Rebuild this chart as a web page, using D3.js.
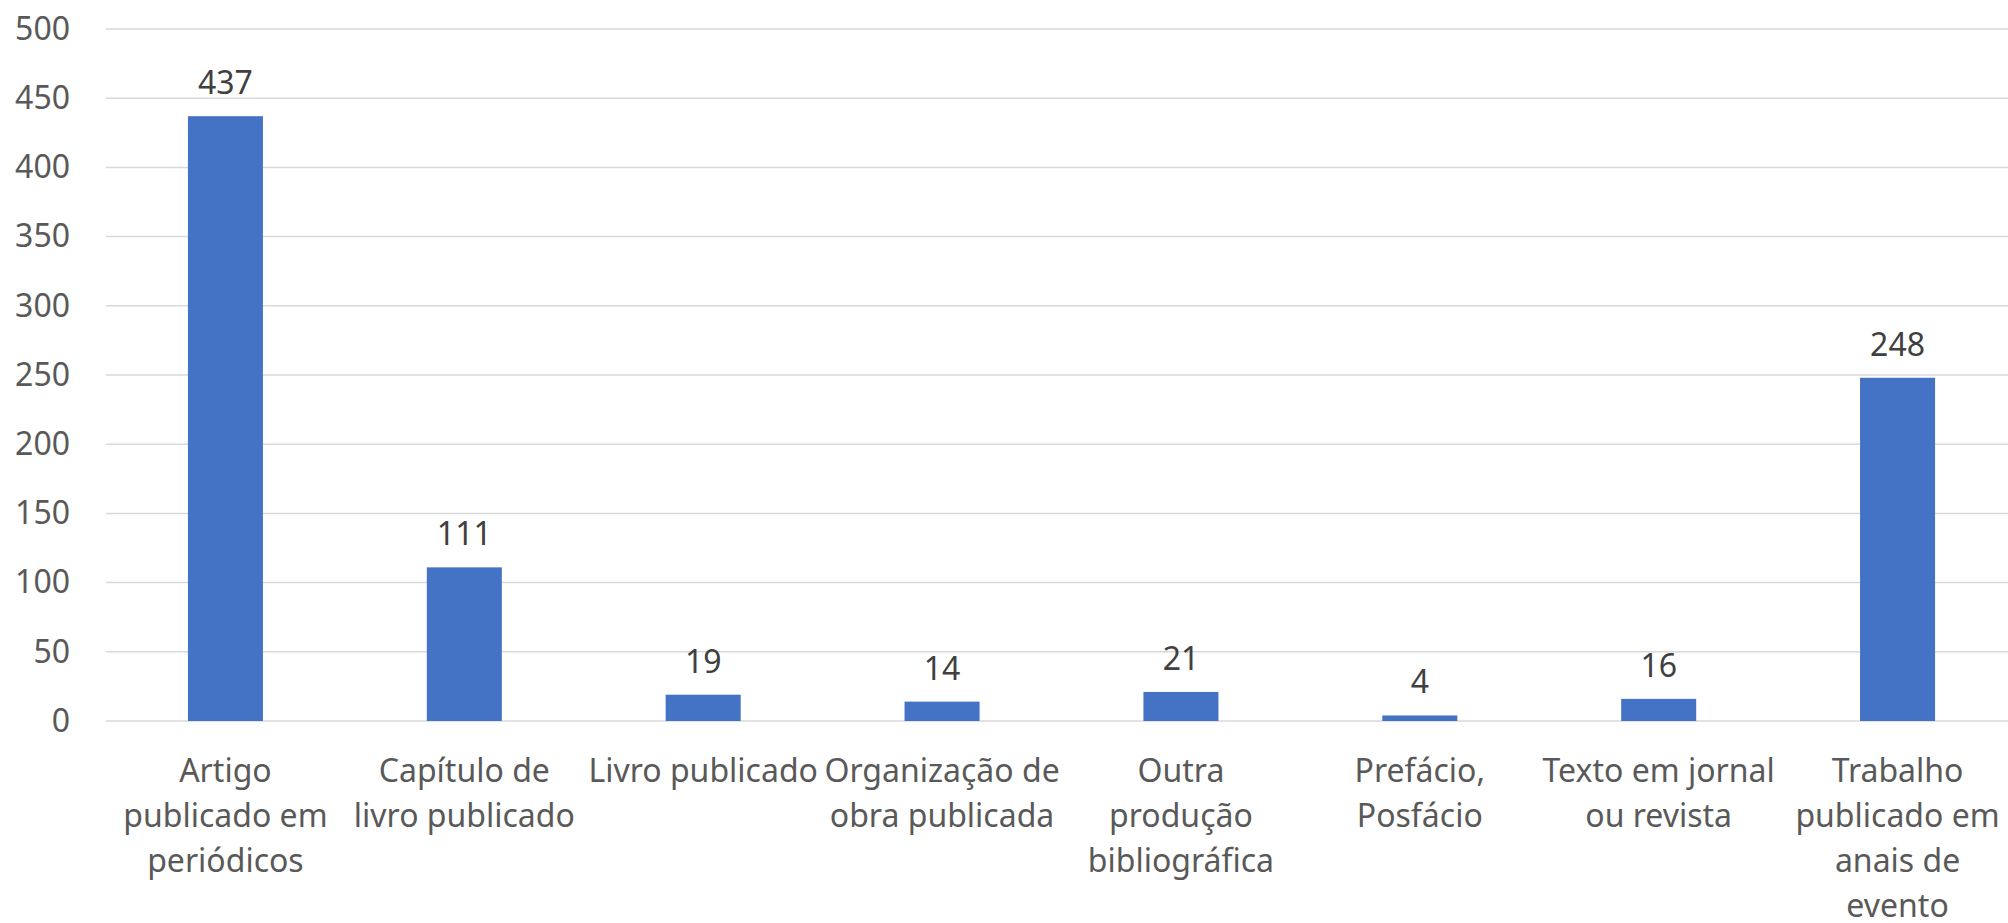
<!DOCTYPE html>
<html>
<head>
<meta charset="utf-8">
<script src="https://cdn.jsdelivr.net/npm/d3@7"></script>
<style>
  body { margin: 0; background: #fff; }
  text { font-family: "Noto Sans", "Open Sans", sans-serif; }
</style>
</head>
<body>
<div id="chart-container"></div>
<script>
// categories, with the line breaks used on the axis
var categories = [
    "Artigo\npublicado em\nperiódicos",
    "Capítulo de\nlivro publicado",
    "Livro publicado",
    "Organização de\nobra publicada",
    "Outra\nprodução\nbibliográfica",
    "Prefácio,\nPosfácio",
    "Texto em jornal\nou revista",
    "Trabalho\npublicado em\nanais de\nevento"
];
var values = [437, 111, 19, 14, 21, 4, 16, 248];
var yTicks = [0, 50, 100, 150, 200, 250, 300, 350, 400, 450, 500];

var width = 2008;
var height = 923;
var margin = {top: 29, right: -9, bottom: 202, left: 106};

var svg = d3.select("#chart-container")
    .append("svg")
    .attr("width", width)
    .attr("height", height);

var x = d3.scaleBand()
    .domain(categories)
    .range([margin.left, width - margin.right])
    .paddingInner(0.686)
    .paddingOuter(0.343);

var y = d3.scaleLinear()
    .domain([0, 500])
    .range([height - margin.bottom, margin.top]);

//gridlines
svg.append("g")
    .selectAll("line")
    .data(yTicks)
    .enter()
    .append("line")
    .attr("x1", margin.left)
    .attr("x2", width)
    .attr("y1", function(d) { return y(d); })
    .attr("y2", function(d) { return y(d); })
    .style("stroke", "#d9d9d9")
    .style("stroke-width", 1.5);

//y axis labels
var yAxis = d3.axisLeft(y).tickValues(yTicks).tickSize(0).tickPadding(0);
svg.append("g")
    .attr("transform", "translate(70,0)")
    .call(yAxis)
    .call(function(g) { g.select(".domain").remove(); })
    .selectAll("text")
    .style("font-size", "32px")
    .style("fill", "#595959")
    .style("font-family", "'Noto Sans', sans-serif");

//bars
svg.selectAll(".bar")
    .data(values)
    .enter()
    .append("rect")
    .attr("class", "bar")
    .attr("x", function(d, i) { return x(categories[i]); })
    .attr("y", function(d) { return y(d); })
    .attr("width", x.bandwidth())
    .attr("height", function(d) { return y(0) - y(d); })
    .style("fill", "#4472c4");

//value labels
svg.selectAll(".value")
    .data(values)
    .enter()
    .append("text")
    .attr("class", "value")
    .attr("x", function(d, i) { return x(categories[i]) + x.bandwidth() / 2; })
    .attr("y", function(d) { return y(d) - 22; })
    .attr("text-anchor", "middle")
    .style("font-size", "32px")
    .style("fill", "#404040")
    .text(function(d) { return d; });

//category labels, multi-line
var cat = svg.selectAll(".cat")
    .data(categories)
    .enter()
    .append("text")
    .attr("class", "cat")
    .attr("text-anchor", "middle")
    .style("font-size", "32px")
    .style("fill", "#595959");

cat.each(function(d) {
    var cx = x(d) + x.bandwidth() / 2;
    d3.select(this).selectAll("tspan")
        .data(d.split("\n"))
        .enter()
        .append("tspan")
        .attr("x", cx)
        .attr("y", function(l, j) { return y(0) + 61 + j * 45; })
        .text(function(l) { return l; });
});
</script>
</body>
</html>
